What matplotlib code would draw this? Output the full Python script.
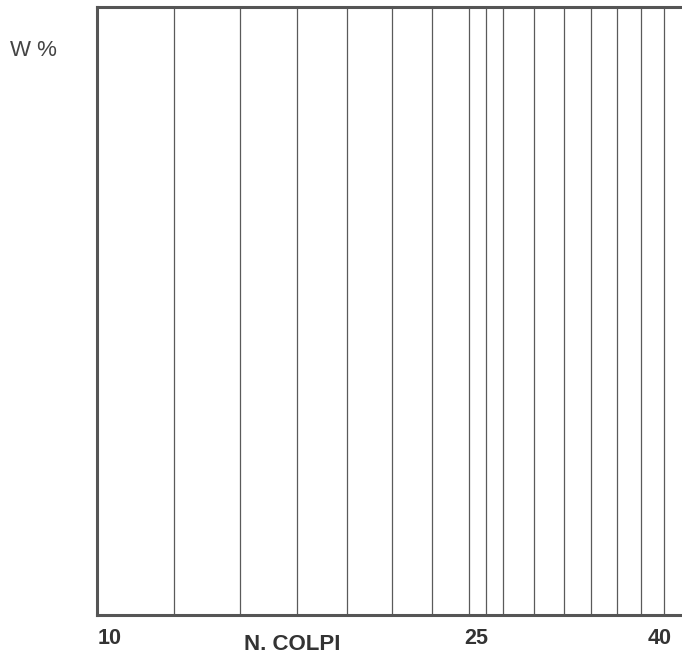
import matplotlib
matplotlib.use("Agg")
import matplotlib.pyplot as plt

# number-of-blows grid lines (log scale, Casagrande chart)
blow_lines = [12, 14, 16, 18, 20, 22, 24, 25, 26, 28, 30, 32, 34, 36, 38]
tick_values = [10, 25, 40]
tick_labels = ["10", "25", "40"]
tick_offsets = [(13, "center"), (-10, "center"), (-26, "center")]

x_label = "N. COLPI"
y_label = "W %"

fig = plt.figure(figsize=(6.82, 6.53), dpi=100)
# axes runs a few pixels past the right edge of the figure, as in the scan
ax = fig.add_axes([97 / 682, 38 / 653, 589 / 682, 608 / 653])

ax.set_xscale("log")
ax.set_xlim(10, 40)
ax.set_ylim(0, 1)

for b in blow_lines:
    ax.axvline(b, color="#5a5a5a", lw=0.9)

for side in ["left", "bottom", "top"]:
    ax.spines[side].set_color("#555555")
    ax.spines[side].set_linewidth(2.2)
ax.spines["right"].set_visible(False)

ax.set_xticks([])
ax.set_yticks([])
ax.minorticks_off()

for v, lab, (dx, ha) in zip(tick_values, tick_labels, tick_offsets):
    ax.annotate(lab, xy=(v, 0), xycoords=("data", "axes fraction"),
                xytext=(dx, -24), textcoords="offset pixels",
                ha=ha, va="center", fontsize=15.5, fontweight="bold",
                family="Liberation Sans", color="#333333")

fig.text(292 / 682, 1 - 644 / 653, x_label, ha="center", va="center",
         fontsize=16, fontweight="bold", family="Liberation Sans", color="#333333")
fig.text(33 / 682, 1 - 51 / 653, y_label, ha="center", va="center",
         fontsize=16, family="Liberation Sans", color="#444444")

fig.savefig("out.png", dpi=100)
